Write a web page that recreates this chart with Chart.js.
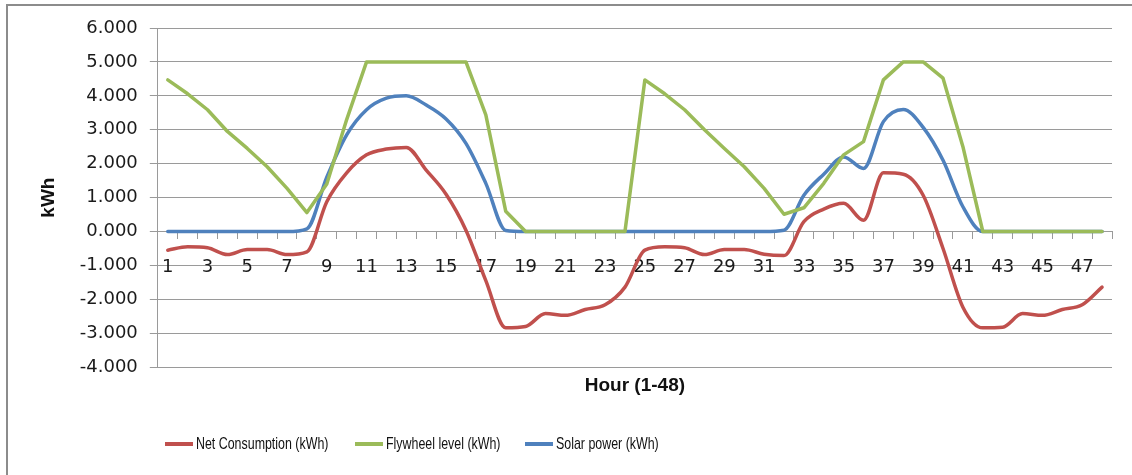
<!DOCTYPE html>
<html>
<head>
    <title>Net Consumption / Flywheel / Solar</title>
    <script src="https://cdn.jsdelivr.net/npm/chart.js"></script>
    <style>
        body {
            margin: 0;
            background: #fff;
        }

        .wrap {
            position: relative;
            width: 1132px;
            height: 475px;
        }

        .legend-item {
            position: absolute;
            top: 432px;
            display: flex;
            align-items: center;
            height: 24px;
            font-family: 'Liberation Sans', sans-serif;
            font-size: 17px;
            color: #111;
            white-space: nowrap;
        }

        .swatch {
            width: 28px;
            height: 4px;
            margin-right: 3px;
        }

        /* the original legend uses a narrow face */
        .legend-item .txt {
            display: inline-block;
            transform: scaleX(0.73);
            transform-origin: left center;
        }
    </style>
</head>
<body>
    <div class="wrap">
        <canvas id="chart"></canvas>
        <div class="legend-item" style="left:165px"><span class="swatch" style="background:#C0504D"></span><span class="txt">Net Consumption (kWh)</span></div>
        <div class="legend-item" style="left:355px"><span class="swatch" style="background:#9BBB59"></span><span class="txt">Flywheel level (kWh)</span></div>
        <div class="legend-item" style="left:525px"><span class="swatch" style="background:#4F81BD"></span><span class="txt">Solar power (kWh)</span></div>
    </div>

    <script>
        const hours = ['1', '2', '3', '4', '5', '6', '7', '8', '9', '10', '11', '12',
            '13', '14', '15', '16', '17', '18', '19', '20', '21', '22', '23', '24',
            '25', '26', '27', '28', '29', '30', '31', '32', '33', '34', '35', '36',
            '37', '38', '39', '40', '41', '42', '43', '44', '45', '46', '47', '48'];

        const netConsumption = [-0.55, -0.45, -0.48, -0.68, -0.53, -0.53, -0.68, -0.60,
            0.88, 1.73, 2.26, 2.43, 2.48, 1.81, 1.10, 0.04,
            -1.45, -2.84, -2.80, -2.42, -2.47, -2.30, -2.16, -1.64,
            -0.55, -0.45, -0.48, -0.68, -0.53, -0.53, -0.67, -0.71,
            0.29, 0.66, 0.83, 0.33, 1.73, 1.69, 1.07, -0.50,
            -2.23, -2.84, -2.82, -2.42, -2.47, -2.30, -2.16, -1.64];

        const flywheelLevel = [4.47, 4.06, 3.59, 2.95, 2.45, 1.91, 1.27, 0.56,
            1.40, 3.30, 5.00, 5.00, 5.00, 5.00, 5.00, 5.00,
            3.44, 0.60, 0, 0, 0, 0, 0, 0,
            4.47, 4.06, 3.59, 3.00, 2.45, 1.91, 1.27, 0.51,
            0.70, 1.42, 2.26, 2.65, 4.47, 5.00, 5.00, 4.52,
            2.50, 0, 0, 0, 0, 0, 0, 0];

        const solarPower = [0, 0, 0, 0, 0, 0, 0, 0.08,
            1.60, 2.85, 3.59, 3.93, 4.00, 3.73, 3.32, 2.60,
            1.42, 0.03, 0, 0, 0, 0, 0, 0,
            0, 0, 0, 0, 0, 0, 0, 0.04,
            1.07, 1.69, 2.20, 1.86, 3.24, 3.60, 3.07, 2.10,
            0.73, 0, 0, 0, 0, 0, 0, 0];

        const yMin = -4;
        const yMax = 6;

        const gridColor = '#9a9a9a';
        const tickFont = { family: 'DejaVu Sans', size: 18 };

        // grey frame on the left and top edge like the cropped original
        const framePlugin = {
            id: 'frame',
            beforeDraw(chart) {
                const c = chart.ctx;
                c.save();
                c.fillStyle = '#fff';
                c.fillRect(0, 0, chart.width, chart.height);
                c.strokeStyle = '#8c8c8c';
                c.lineWidth = 2;
                c.beginPath();
                c.moveTo(7, chart.height);
                c.lineTo(7, 5);
                c.lineTo(chart.width, 5);
                c.stroke();
                c.restore();
            }
        };

        new Chart(document.getElementById('chart'), {
            type: 'line',
            data: {
                labels: hours,
                datasets: [{
                    label: 'Net Consumption (kWh)',
                    data: netConsumption,
                    borderColor: '#C0504D',
                    cubicInterpolationMode: 'monotone'
                }, {
                    label: 'Flywheel level (kWh)',
                    data: flywheelLevel,
                    borderColor: '#9BBB59',
                    tension: 0
                }, {
                    label: 'Solar power (kWh)',
                    data: solarPower,
                    borderColor: '#4F81BD',
                    cubicInterpolationMode: 'monotone'
                }]
            },
            options: {
                responsive: true,
                maintainAspectRatio: false,
                animation: false,
                layout: {
                    padding: { left: 37, right: 20, top: 28, bottom: 78 }
                },
                elements: {
                    point: { radius: 0 },
                    line: { borderWidth: 3.5, borderCapStyle: 'round', borderJoinStyle: 'round' }
                },
                plugins: {
                    legend: { display: false },
                    tooltip: { enabled: false }
                },
                scales: {
                    x: {
                        position: { y: 0 },
                        offset: true,
                        grid: {
                            offset: true,
                            drawOnChartArea: false,
                            tickLength: 7,
                            color: gridColor
                        },
                        border: { color: gridColor, width: 1 },
                        ticks: {
                            autoSkip: false,
                            maxRotation: 0,
                            padding: 18,
                            color: '#1a1a1a',
                            font: tickFont,
                            callback: (v, i) => (i % 2 === 0 ? hours[i] : '')
                        }
                    },
                    x2: {
                        type: 'category',
                        labels: hours,
                        position: 'bottom',
                        offset: true,
                        grid: { display: false, drawTicks: false },
                        border: { display: false },
                        ticks: { display: false },
                        title: {
                            display: true,
                            text: 'Hour (1-48)',
                            color: '#111',
                            font: { family: 'Liberation Sans', size: 19, weight: 'bold' },
                            padding: { top: 7, bottom: 0 }
                        }
                    },
                    y: {
                        min: yMin,
                        max: yMax,
                        grid: {
                            color: gridColor,
                            tickLength: 8
                        },
                        border: { color: gridColor, width: 1 },
                        ticks: {
                            stepSize: 1,
                            padding: 12,
                            color: '#1a1a1a',
                            font: tickFont,
                            callback: v => v.toFixed(3)
                        },
                        title: {
                            display: true,
                            text: 'kWh',
                            color: '#111',
                            font: { family: 'Liberation Sans', size: 19, weight: 'bold' },
                            padding: { top: 0, bottom: 8 }
                        }
                    }
                }
            },
            plugins: [framePlugin]
        });
    </script>
</body>
</html>
